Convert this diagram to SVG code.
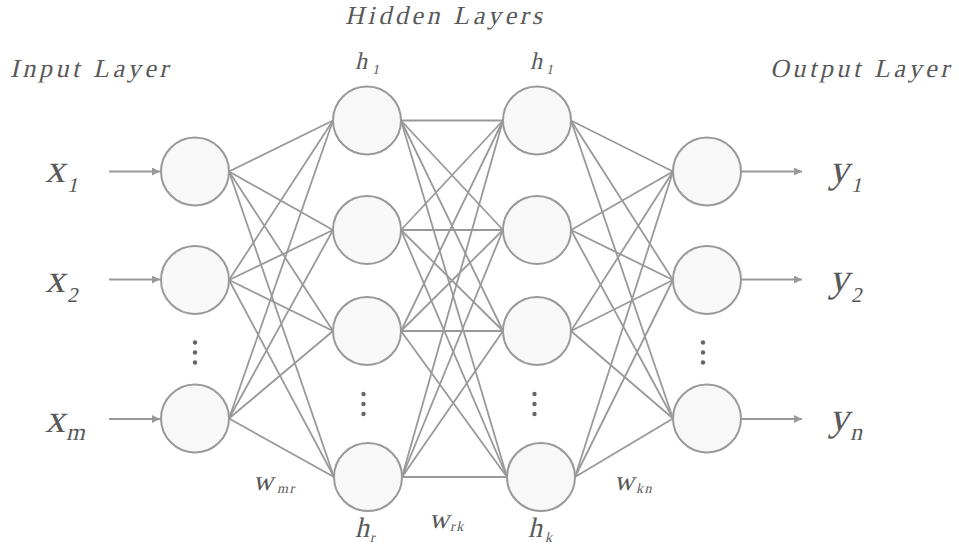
<svg xmlns="http://www.w3.org/2000/svg" width="959" height="549" viewBox="0 0 959 549">
<defs>
<style>
.node{fill:#f8f8f8;stroke:#999;stroke-width:2}
.edge{stroke:#999;stroke-width:1.8;fill:none}
.arr{stroke:#999;stroke-width:2;fill:none}
.t{font-family:"Liberation Serif","Times New Roman",serif;fill:#595959}
.title{font-size:26px;letter-spacing:3.6px}
.big{font-size:40px}
.sub{font-size:21px}
.mid{font-size:28px}
.small{font-size:14px;letter-spacing:1.5px}
.h1{font-size:24px}
.dot{fill:#666}
</style>
<marker id="ah" markerWidth="10" markerHeight="10" refX="8" refY="4" orient="auto" markerUnits="userSpaceOnUse">
<path d="M0,0 L8,4 L0,8 Z" fill="#999"/>
</marker>
</defs>
<rect width="959" height="549" fill="#fff"/>

<g id="connectors">
<line class="arr" x1="109" y1="171.5" x2="160" y2="171.5" marker-end="url(#ah)"/>
<line class="arr" x1="109" y1="279.5" x2="160" y2="279.5" marker-end="url(#ah)"/>
<line class="arr" x1="109" y1="419" x2="160" y2="419" marker-end="url(#ah)"/>
<line class="arr" x1="742" y1="171.5" x2="802" y2="171.5" marker-end="url(#ah)"/>
<line class="arr" x1="742" y1="279.5" x2="802" y2="279.5" marker-end="url(#ah)"/>
<line class="arr" x1="742" y1="419" x2="802" y2="419" marker-end="url(#ah)"/>
<g class="edge">
<line x1="229" y1="171.5" x2="333" y2="120.5"/>
<line x1="229" y1="171.5" x2="333" y2="230"/>
<line x1="229" y1="171.5" x2="333" y2="331"/>
<line x1="229" y1="171.5" x2="334" y2="477"/>
<line x1="229" y1="280" x2="333" y2="120.5"/>
<line x1="229" y1="280" x2="333" y2="230"/>
<line x1="229" y1="280" x2="333" y2="331"/>
<line x1="229" y1="280" x2="334" y2="477"/>
<line x1="229" y1="418.5" x2="333" y2="120.5"/>
<line x1="229" y1="418.5" x2="333" y2="230"/>
<line x1="229" y1="418.5" x2="333" y2="331"/>
<line x1="229" y1="418.5" x2="334" y2="477"/>
</g>
<g class="edge">
<line x1="401" y1="120.5" x2="503" y2="120.5"/>
<line x1="401" y1="120.5" x2="503" y2="230"/>
<line x1="401" y1="120.5" x2="503" y2="331"/>
<line x1="401" y1="120.5" x2="507" y2="477"/>
<line x1="401" y1="230" x2="503" y2="120.5"/>
<line x1="401" y1="230" x2="503" y2="230"/>
<line x1="401" y1="230" x2="503" y2="331"/>
<line x1="401" y1="230" x2="507" y2="477"/>
<line x1="401" y1="331" x2="503" y2="120.5"/>
<line x1="401" y1="331" x2="503" y2="230"/>
<line x1="401" y1="331" x2="503" y2="331"/>
<line x1="401" y1="331" x2="507" y2="477"/>
<line x1="402" y1="477" x2="503" y2="120.5"/>
<line x1="402" y1="477" x2="503" y2="230"/>
<line x1="402" y1="477" x2="503" y2="331"/>
<line x1="402" y1="477" x2="507" y2="477"/>
</g>
<g class="edge">
<line x1="571" y1="120.5" x2="673" y2="171.5"/>
<line x1="571" y1="120.5" x2="673" y2="280"/>
<line x1="571" y1="120.5" x2="673" y2="418.5"/>
<line x1="571" y1="230" x2="673" y2="171.5"/>
<line x1="571" y1="230" x2="673" y2="280"/>
<line x1="571" y1="230" x2="673" y2="418.5"/>
<line x1="571" y1="331" x2="673" y2="171.5"/>
<line x1="571" y1="331" x2="673" y2="280"/>
<line x1="571" y1="331" x2="673" y2="418.5"/>
<line x1="575" y1="477" x2="673" y2="171.5"/>
<line x1="575" y1="477" x2="673" y2="280"/>
<line x1="575" y1="477" x2="673" y2="418.5"/>
</g>
</g>

<g id="input-1"><circle class="node" cx="195" cy="171.5" r="34"/></g>
<g id="input-2"><circle class="node" cx="195" cy="280" r="34"/></g>
<g id="input-m"><circle class="node" cx="195" cy="418.5" r="34"/></g>
<g id="hidden1-1"><circle class="node" cx="367" cy="120.5" r="34"/></g>
<g id="hidden1-2"><circle class="node" cx="367" cy="230" r="34"/></g>
<g id="hidden1-3"><circle class="node" cx="367" cy="331" r="34"/></g>
<g id="hidden1-r"><circle class="node" cx="368" cy="477" r="34"/></g>
<g id="hidden2-1"><circle class="node" cx="537" cy="120.5" r="34"/></g>
<g id="hidden2-2"><circle class="node" cx="537" cy="230" r="34"/></g>
<g id="hidden2-3"><circle class="node" cx="537" cy="331" r="34"/></g>
<g id="hidden2-k"><circle class="node" cx="541" cy="477" r="34"/></g>
<g id="output-1"><circle class="node" cx="707" cy="171.5" r="34"/></g>
<g id="output-2"><circle class="node" cx="707" cy="280" r="34"/></g>
<g id="output-n"><circle class="node" cx="707" cy="418.5" r="34"/></g>

<g id="ellipses">
<circle class="dot" cx="195" cy="342.5" r="2.2"/><circle class="dot" cx="195" cy="352.5" r="2.2"/><circle class="dot" cx="195" cy="362.5" r="2.2"/>
<circle class="dot" cx="703" cy="342.5" r="2.2"/><circle class="dot" cx="703" cy="352.5" r="2.2"/><circle class="dot" cx="703" cy="362.5" r="2.2"/>
<circle class="dot" cx="363.5" cy="394" r="2.2"/><circle class="dot" cx="363.5" cy="404" r="2.2"/><circle class="dot" cx="363.5" cy="414" r="2.2"/>
<circle class="dot" cx="534.5" cy="394" r="2.2"/><circle class="dot" cx="534.5" cy="404" r="2.2"/><circle class="dot" cx="534.5" cy="414" r="2.2"/>
</g>

<g id="labels">
<text class="t title" transform="translate(10,77) skewX(-13)">Input Layer</text>
<text class="t title" transform="translate(345,24) skewX(-13)">Hidden Layers</text>
<text class="t title" transform="translate(770,77) skewX(-13)">Output Layer</text>

<text class="t big" transform="translate(45,182) skewX(-13)">x</text><text class="t sub" transform="translate(67,192) skewX(-13)">1</text>
<text class="t big" transform="translate(45,291.5) skewX(-13)">x</text><text class="t sub" transform="translate(67,301.5) skewX(-13)">2</text>
<text class="t big" transform="translate(45,432) skewX(-13)">x</text><text class="t sub" transform="translate(66,440) skewX(-13)" style="font-size:24px">m</text>

<text class="t big" transform="translate(829,182) skewX(-13)">y</text><text class="t sub" transform="translate(851,192) skewX(-13)">1</text>
<text class="t big" transform="translate(829,290.5) skewX(-13)">y</text><text class="t sub" transform="translate(851,301.5) skewX(-13)">2</text>
<text class="t big" transform="translate(829,430) skewX(-13)">y</text><text class="t sub" transform="translate(850,440) skewX(-13)" style="font-size:24px">n</text>

<text class="t h1" transform="translate(355,69) skewX(-13)">h</text><text class="t small" transform="translate(372,74) skewX(-13)">1</text>
<text class="t h1" transform="translate(530,69) skewX(-13)">h</text><text class="t small" transform="translate(546,74) skewX(-13)">1</text>

<text class="t mid" transform="translate(253,490) skewX(-13)">w</text><text class="t small" transform="translate(277,493) skewX(-13)">mr</text>
<text class="t mid" transform="translate(355,537) skewX(-13)">h</text><text class="t small" transform="translate(370,542) skewX(-13)">r</text>
<text class="t mid" transform="translate(429,528) skewX(-13)">w</text><text class="t small" transform="translate(450,531) skewX(-13)">rk</text>
<text class="t mid" transform="translate(528,537) skewX(-13)">h</text><text class="t small" transform="translate(545,542) skewX(-13)">k</text>
<text class="t mid" transform="translate(614,490) skewX(-13)">w</text><text class="t small" transform="translate(636,493) skewX(-13)">kn</text>
</g>
</svg>
